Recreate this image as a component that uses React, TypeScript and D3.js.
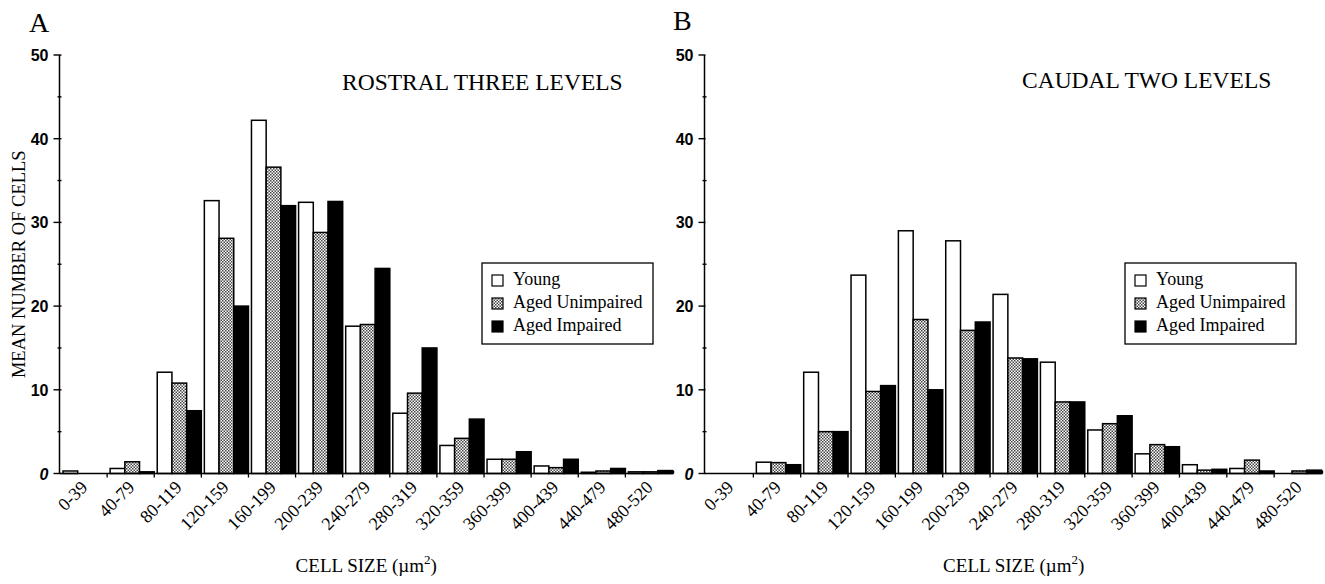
import * as d3 from 'd3';
import { useEffect, useRef } from 'react';

const binLabels = [
  '0-39', '40-79', '80-119', '120-159', '160-199', '200-239', '240-279',
  '280-319', '320-359', '360-399', '400-439', '440-479', '480-520',
];

const seriesNames = ['Young', 'Aged Unimpaired', 'Aged Impaired'];

const rostralYoung = [0.3, 0.6, 12.1, 32.6, 42.2, 32.4, 17.6, 7.2, 3.35, 1.7, 0.9, 0.15, 0.2];
const rostralUnimpaired = [0, 1.4, 10.8, 28.1, 36.6, 28.8, 17.8, 9.6, 4.2, 1.7, 0.7, 0.3, 0.2];
const rostralImpaired = [0, 0.2, 7.5, 20.0, 32.0, 32.5, 24.5, 15.0, 6.5, 2.6, 1.7, 0.6, 0.35];

const caudalYoung = [0, 1.35, 12.1, 23.7, 29.0, 27.8, 21.4, 13.3, 5.2, 2.35, 1.05, 0.6, 0];
const caudalUnimpaired = [0, 1.3, 5.0, 9.8, 18.4, 17.1, 13.8, 8.55, 5.95, 3.45, 0.4, 1.6, 0.3];
const caudalImpaired = [0, 1.05, 5.0, 10.5, 10.0, 18.1, 13.7, 8.55, 6.9, 3.2, 0.5, 0.3, 0.4];

const majorTicks = [0, 10, 20, 30, 40, 50];
const minorTicks = [5, 15, 25, 35, 45];

const SERIF = '"Liberation Serif", "Times New Roman", Times, serif';
const SANS = '"Liberation Sans", Arial, Helvetica, sans-serif';

const panels = [
  {
    letter: 'A',
    title: 'ROSTRAL THREE LEVELS',
    series: [rostralYoung, rostralUnimpaired, rostralImpaired],
    axisX: 59.5,
    range: [60, 672.5],
    letterPos: [29, 32],
    titlePos: [342, 90],
    legendPos: [482, 263],
    showYLabel: true,
  },
  {
    letter: 'B',
    title: 'CAUDAL TWO LEVELS',
    series: [caudalYoung, caudalUnimpaired, caudalImpaired],
    axisX: 704.5,
    range: [706, 1321.5],
    letterPos: [673, 30],
    titlePos: [1022, 88],
    legendPos: [1125, 263],
    showYLabel: false,
  },
];

export default function App() {
  const ref = useRef(null);

  useEffect(() => {
    const svg = d3.select(ref.current);
    svg.selectAll('*').remove();

    const width = 1325;
    const height = 584;
    svg.attr('width', width).attr('height', height).attr('viewBox', `0 0 ${width} ${height}`);

    const defs = svg.append('defs');
    const pattern = defs.append('pattern')
      .attr('id', 'stipple')
      .attr('patternUnits', 'userSpaceOnUse')
      .attr('width', 3)
      .attr('height', 3);
    pattern.append('rect').attr('width', 3).attr('height', 3).attr('fill', '#fff');
    pattern.append('rect').attr('x', 0).attr('y', 0).attr('width', 1.5).attr('height', 1.5).attr('fill', '#444');
    pattern.append('rect').attr('x', 1.5).attr('y', 1.5).attr('width', 1.5).attr('height', 1.5).attr('fill', '#444');

    const fills = ['#fff', 'url(#stipple)', '#000'];

    const y = d3.scaleLinear().domain([0, 50]).range([473.5, 55]);

    panels.forEach((panel) => {
      const g = svg.append('g');
      const x = d3.scaleBand().domain(binLabels).range(panel.range).padding(0);
      const groupPad = 3;
      const barW = (x.bandwidth() - groupPad) / 3;

      // bars
      panel.series.forEach((values, si) => {
        g.append('g')
          .selectAll('rect')
          .data(values.map((v, i) => ({ v, bin: binLabels[i] })).filter((d) => d.v > 0))
          .enter()
          .append('rect')
          .attr('x', (d) => x(d.bin) + groupPad + si * barW)
          .attr('y', (d) => y(d.v))
          .attr('width', barW)
          .attr('height', (d) => y(0) - y(d.v))
          .attr('fill', fills[si])
          .attr('stroke', '#000')
          .attr('stroke-width', 1.5);
      });

      // y axis
      const yAxis = g.append('g').attr('stroke', '#000');
      yAxis.append('line')
        .attr('x1', panel.axisX).attr('x2', panel.axisX)
        .attr('y1', y(50)).attr('y2', y(0))
        .attr('stroke-width', 1.5);
      yAxis.selectAll('line.major')
        .data(majorTicks)
        .enter()
        .append('line')
        .attr('class', 'major')
        .attr('x1', panel.axisX - 6).attr('x2', panel.axisX + (panel.letter === 'A' ? 2 : 1))
        .attr('y1', (d) => y(d)).attr('y2', (d) => y(d))
        .attr('stroke-width', 1.4);
      yAxis.selectAll('line.minor')
        .data(minorTicks)
        .enter()
        .append('line')
        .attr('class', 'minor')
        .attr('x1', panel.axisX - 2).attr('x2', panel.axisX + 2)
        .attr('y1', (d) => y(d)).attr('y2', (d) => y(d))
        .attr('stroke-width', 1.4);

      g.append('g')
        .selectAll('text')
        .data(majorTicks)
        .enter()
        .append('text')
        .attr('x', panel.axisX - 11)
        .attr('y', (d) => y(d) + 6)
        .attr('text-anchor', 'end')
        .style('font-family', SANS)
        .style('font-size', '16px')
        .style('font-weight', 'bold')
        .style('font-style', (d) => (d === 0 ? 'italic' : 'normal'))
        .text((d) => d);

      // x axis
      const [x0, x1] = panel.range;
      g.append('line')
        .attr('x1', panel.axisX).attr('x2', x1 + 1)
        .attr('y1', y(0)).attr('y2', y(0))
        .attr('stroke', '#000')
        .attr('stroke-width', 1.6);
      g.append('line')
        .attr('x1', x1 + 1).attr('x2', x1 + 1)
        .attr('y1', y(0)).attr('y2', y(0) - 3)
        .attr('stroke', '#000')
        .attr('stroke-width', 1.4);
      g.append('g')
        .selectAll('line')
        .data(binLabels.slice(1))
        .enter()
        .append('line')
        .attr('x1', (d) => x(d)).attr('x2', (d) => x(d))
        .attr('y1', y(0)).attr('y2', y(0) + 4)
        .attr('stroke', '#000')
        .attr('stroke-width', 1.3);

      g.append('g')
        .selectAll('text')
        .data(binLabels)
        .enter()
        .append('text')
        .attr('transform', (d) => `translate(${x(d) + x.bandwidth() / 2 + 5},${y(0) + 15}) rotate(-45)`)
        .attr('text-anchor', 'end')
        .style('font-family', SERIF)
        .style('font-size', '18px')
        .text((d) => d);

      // x axis title
      const xTitle = g.append('text')
        .attr('x', (x0 + x1) / 2)
        .attr('y', 572)
        .attr('text-anchor', 'middle')
        .style('font-family', SERIF)
        .style('font-size', '19px');
      xTitle.append('tspan').text('CELL SIZE (\u00b5m');
      xTitle.append('tspan').attr('dy', -8).style('font-size', '13px').text('2');
      xTitle.append('tspan').attr('dy', 8).text(')');

      if (panel.showYLabel) {
        g.append('text')
          .attr('transform', `translate(25,${(y(0) + y(50)) / 2}) rotate(-90)`)
          .attr('text-anchor', 'middle')
          .style('font-family', SERIF)
          .style('font-size', '18.5px')
          .text('MEAN NUMBER OF CELLS');
      }

      // panel letter and title
      g.append('text')
        .attr('x', panel.letterPos[0])
        .attr('y', panel.letterPos[1])
        .style('font-family', SERIF)
        .style('font-size', '28px')
        .text(panel.letter);

      g.append('text')
        .attr('x', panel.titlePos[0])
        .attr('y', panel.titlePos[1])
        .style('font-family', SERIF)
        .style('font-size', '23.5px')
        .text(panel.title);

      // legend
      const [lx, ly] = panel.legendPos;
      const legend = g.append('g').attr('transform', `translate(${lx},${ly})`);
      legend.append('rect')
        .attr('width', 171)
        .attr('height', 81)
        .attr('fill', '#fff')
        .attr('stroke', '#000')
        .attr('stroke-width', 1.3);
      seriesNames.forEach((name, i) => {
        const row = legend.append('g').attr('transform', `translate(10,${12 + i * 23})`);
        row.append('rect')
          .attr('width', 11)
          .attr('height', 11)
          .attr('fill', fills[i])
          .attr('stroke', '#000')
          .attr('stroke-width', 1.2);
        row.append('text')
          .attr('x', 21)
          .attr('y', 10)
          .style('font-family', SERIF)
          .style('font-size', '18px')
          .text(name);
      });
    });
  }, []);

  return (
    <svg
      ref={ref}
      style={{ position: 'absolute', left: 0, top: 0, background: '#fff' }}
      role="img"
      aria-label="Mean number of cells by cell size"
    />
  );
}
